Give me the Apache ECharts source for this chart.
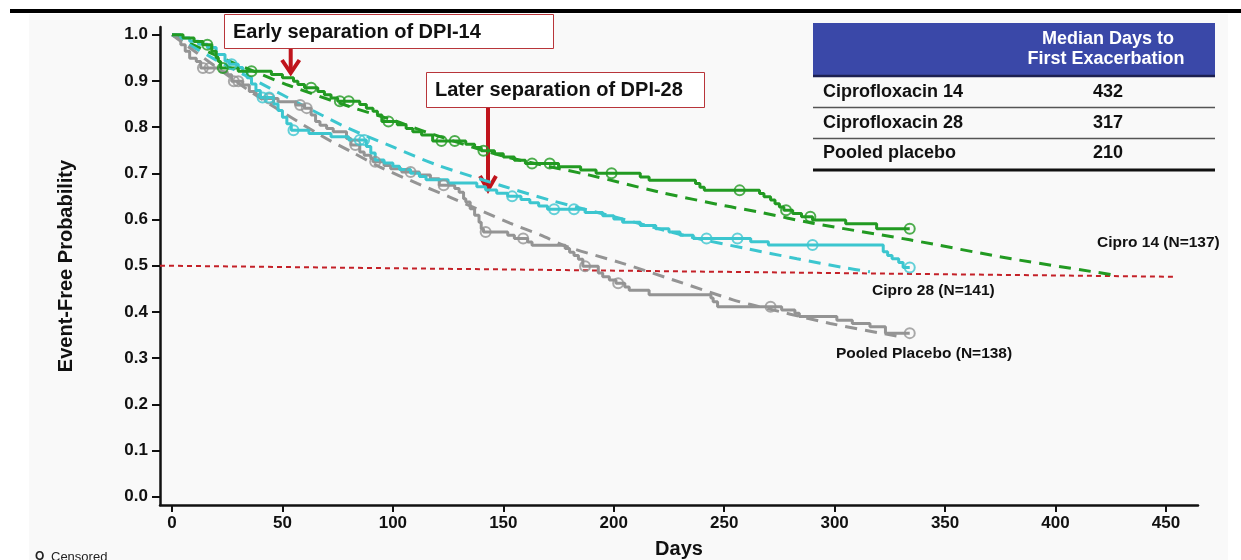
<!DOCTYPE html>
<html>
<head>
<meta charset="utf-8">
<title>Time to First Exacerbation</title>
<script src="https://cdn.jsdelivr.net/npm/echarts@6/dist/echarts.min.js"></script>
<style>
  html, body { margin: 0; padding: 0; background: #ffffff; }
  #panel { position: absolute; left: 29px; top: 14px; width: 1199px; height: 546px; background: #f9f9f9; }
  #chart { position: absolute; left: 0; top: 0; width: 1241px; height: 560px; }
</style>
</head>
<body>
<div id="panel"></div>
<div id="chart"></div>
<script>
// Axis tick values
const dayTicks = [0, 50, 100, 150, 200, 250, 300, 350, 400, 450];
const probTicks = [0, 0.1, 0.2, 0.3, 0.4, 0.5, 0.6, 0.7, 0.8, 0.9, 1.0];

// Kaplan-Meier steps [day, event-free probability]
const cipro14Steps = [
  [0,1.000],[5,0.993],[10,0.985],[14,0.978],[18,0.964],[20,0.950],[21,0.942],[22,0.928],
  [30,0.921],[45,0.914],[50,0.907],[55,0.899],[57,0.892],[60,0.885],[66,0.877],[69,0.870],
  [72,0.863],[75,0.856],[85,0.849],[88,0.841],[91,0.834],[93,0.826],[95,0.812],[102,0.805],
  [106,0.797],[109,0.790],[113,0.783],[118,0.770],[133,0.763],[137,0.756],[140,0.749],
  [146,0.742],[150,0.735],[155,0.728],[160,0.721],[175,0.714],[185,0.707],[192,0.700],
  [212,0.692],[216,0.685],[237,0.678],[239,0.670],[241,0.663],[266,0.656],[268,0.649],
  [271,0.642],[273,0.634],[275,0.627],[277,0.620],[281,0.613],[285,0.606],[290,0.599],
  [305,0.591],[319,0.580],[334,0.580]
];
const cipro28Steps = [
  [0,1.000],[4,0.993],[8,0.986],[12,0.979],[16,0.972],[20,0.957],[24,0.943],[26,0.936],
  [30,0.929],[32,0.921],[34,0.907],[36,0.893],[38,0.879],[40,0.864],[46,0.850],[48,0.836],
  [50,0.821],[52,0.807],[54,0.793],[62,0.786],[72,0.779],[80,0.772],[88,0.758],[90,0.744],
  [92,0.729],[96,0.722],[100,0.715],[103,0.708],[108,0.700],[112,0.693],[115,0.686],
  [125,0.679],[138,0.671],[142,0.664],[147,0.657],[152,0.650],[158,0.643],[162,0.636],
  [166,0.629],[170,0.622],[187,0.615],[195,0.608],[200,0.601],[204,0.594],[212,0.587],
  [219,0.580],[225,0.573],[230,0.566],[236,0.559],[262,0.552],[270,0.545],[322,0.530],
  [324,0.522],[326,0.515],[329,0.507],[331,0.496],[334,0.496]
];
const placeboSteps = [
  [0,1.000],[2,0.993],[4,0.978],[6,0.964],[8,0.949],[11,0.942],[13,0.928],[22,0.920],
  [25,0.913],[27,0.899],[32,0.891],[35,0.877],[38,0.870],[40,0.862],[48,0.855],[56,0.848],
  [60,0.841],[63,0.826],[65,0.812],[67,0.804],[70,0.797],[73,0.790],[79,0.775],[81,0.761],
  [85,0.746],[87,0.739],[90,0.732],[91,0.725],[96,0.717],[99,0.710],[104,0.703],[112,0.696],
  [117,0.688],[121,0.674],[128,0.667],[130,0.659],[132,0.645],[133,0.638],[135,0.623],
  [137,0.609],[139,0.594],[140,0.580],[141,0.573],[152,0.566],[155,0.559],[161,0.551],
  [163,0.544],[178,0.537],[180,0.529],[182,0.522],[184,0.514],[186,0.499],[193,0.484],
  [195,0.476],[198,0.469],[201,0.462],[205,0.454],[207,0.447],[216,0.437],[244,0.430],
  [245,0.422],[247,0.411],[276,0.404],[282,0.397],[284,0.390],[301,0.382],[308,0.375],
  [316,0.368],[323,0.354],[334,0.354]
];

// Censored observations [day, probability]
const cipro14Censored = [
  [16,0.978],[23,0.928],[36,0.921],[63,0.885],[76,0.856],[80,0.856],[98,0.812],[122,0.770],
  [128,0.770],[141,0.749],[163,0.721],[171,0.721],[199,0.700],[257,0.663],[278,0.620],
  [289,0.606],[334,0.580]
];
const cipro28Censored = [
  [27,0.936],[41,0.864],[44,0.864],[55,0.793],[85,0.772],[87,0.772],[154,0.650],[173,0.622],
  [182,0.622],[242,0.559],[256,0.559],[290,0.545],[334,0.496]
];
const placeboCensored = [
  [14,0.928],[17,0.928],[28,0.899],[30,0.899],[44,0.862],[58,0.848],[61,0.841],[83,0.761],
  [92,0.725],[108,0.703],[123,0.674],[142,0.573],[159,0.559],[187,0.499],[202,0.462],
  [271,0.411],[334,0.354]
];

// Fitted (modelled) curves
const cipro14Fit = [
  [0,1.0],[20,0.955],[40,0.915],[53,0.890],[80,0.845],[100,0.815],[117,0.786],[150,0.737],
  [189,0.696],[220,0.660],[251,0.629],[267,0.615],[290,0.592],[334,0.556],[380,0.515],[425,0.481]
];
const cipro28Fit = [
  [0,1.0],[20,0.945],[40,0.895],[60,0.845],[80,0.797],[100,0.757],[120,0.718],[150,0.672],
  [171,0.642],[200,0.606],[234,0.563],[260,0.537],[283,0.515],[304,0.496],[316,0.487]
];
const placeboFit = [
  [0,1.0],[20,0.930],[37,0.872],[67,0.783],[81,0.747],[94,0.714],[111,0.678],[126,0.648],
  [153,0.592],[167,0.566],[179,0.541],[204,0.505],[227,0.469],[254,0.426],[262,0.416],
  [298,0.375],[330,0.346]
];

// Median reference line
const medianLine = [[-5.43,0.500],[454,0.476]];

// Median table
const tableGroups = ['Ciprofloxacin 14', 'Ciprofloxacin 28', 'Pooled placebo'];
const tableMedians = ['432', '317', '210'];

const GREEN = '#229a22', CYAN = '#3cc6cf', GRAY = '#949494', RED = '#c0141c';
const FONT = "'Liberation Sans', Arial, Helvetica, sans-serif";

function stepSeries(name, data, color) {
  return { name, type: 'line', step: 'end', data, symbol: 'none', z: 4,
    lineStyle: { color, width: 3 }, silent: true };
}
function fitSeries(name, data, color) {
  return { name, type: 'line', data, symbol: 'none', smooth: 0.3, z: 3,
    lineStyle: { color, width: 3, type: [12, 8] }, silent: true };
}
function censorSeries(name, data, color) {
  return { name, type: 'scatter', data, symbol: 'circle', symbolSize: 10, z: 5,
    itemStyle: { color: 'rgba(0,0,0,0)', borderColor: color, borderWidth: 2 }, silent: true };
}

const chart = echarts.init(document.getElementById('chart'), null, { renderer: 'canvas' });

const txt = (x, y, text, size, opts) => ({
  type: 'text', x, y,
  style: Object.assign({ text, font: 'bold ' + size + 'px ' + FONT, fill: '#111',
    verticalAlign: 'middle', align: 'left' }, opts || {})
});

const graphics = [
  // top rule
  { type: 'rect', shape: { x: 10, y: 9, width: 1231, height: 4 }, style: { fill: '#000' } },
  // annotation: early separation
  { type: 'rect', shape: { x: 224.5, y: 14.5, width: 329, height: 34 },
    style: { fill: '#ffffff', stroke: '#b8353a', lineWidth: 1 } },
  txt(233, 32, 'Early separation of DPI-14', 20),
  { type: 'line', shape: { x1: 290.7, y1: 49, x2: 290.7, y2: 72 }, style: { stroke: RED, lineWidth: 4 } },
  { type: 'polyline', shape: { points: [[282, 60], [290.7, 73], [299.4, 60]] },
    style: { stroke: RED, lineWidth: 4, fill: null } },
  // annotation: later separation
  { type: 'rect', shape: { x: 426.5, y: 72.5, width: 278, height: 35 },
    style: { fill: '#ffffff', stroke: '#b8353a', lineWidth: 1 } },
  txt(435, 90, 'Later separation of DPI-28', 20),
  { type: 'line', shape: { x1: 488, y1: 108, x2: 488, y2: 189 }, style: { stroke: RED, lineWidth: 4 } },
  { type: 'polyline', shape: { points: [[480, 176], [488, 190], [496, 176]] },
    style: { stroke: RED, lineWidth: 4, fill: null } },
  // median table
  { type: 'rect', shape: { x: 813, y: 23, width: 402, height: 53 }, style: { fill: '#3a48a8' } },
  { type: 'line', shape: { x1: 813, y1: 76, x2: 1215, y2: 76 }, style: { stroke: '#1c2050', lineWidth: 2.5 } },
  txt(1108, 39.5, 'Median Days to', 18, { fill: '#ffffff', align: 'center' }),
  txt(1106, 59.5, 'First Exacerbation', 18, { fill: '#ffffff', align: 'center' }),
  { type: 'line', shape: { x1: 813, y1: 107.5, x2: 1215, y2: 107.5 }, style: { stroke: '#555', lineWidth: 1.5 } },
  { type: 'line', shape: { x1: 813, y1: 138.5, x2: 1215, y2: 138.5 }, style: { stroke: '#555', lineWidth: 1.5 } },
  { type: 'line', shape: { x1: 813, y1: 170, x2: 1215, y2: 170 }, style: { stroke: '#111', lineWidth: 3 } },
  // curve labels
  txt(1097, 243, 'Cipro 14 (N=137)', 15.5),
  txt(872, 291, 'Cipro 28 (N=141)', 15.5),
  txt(836, 354, 'Pooled Placebo (N=138)', 15.5),
  // censor key
  txt(35, 557, 'O', 12, { fill: '#222' }),
  { type: 'text', x: 51, y: 557, style: { text: 'Censored', font: '13px ' + FONT, fill: '#222', verticalAlign: 'middle' } }
];
const rowY = [92, 123, 153];
tableGroups.forEach((g, i) => {
  graphics.push(txt(823, rowY[i], g, 18));
  graphics.push(txt(1108, rowY[i], tableMedians[i], 18, { align: 'center' }));
});

chart.setOption({
  animation: false,
  backgroundColor: 'transparent',
  textStyle: { fontFamily: FONT },
  grid: { left: 160, right: 43, top: 27, bottom: 55, outerBoundsMode: 'none', containLabel: false },
  xAxis: {
    type: 'value', min: -5.43, max: 464.5,
    name: 'Days', nameLocation: 'middle', nameGap: 34,
    nameTextStyle: { fontSize: 20, fontWeight: 'bold', color: '#111', fontFamily: FONT },
    axisLine: { show: true, onZero: false, lineStyle: { color: '#111', width: 2.5 } },
    axisTick: { show: true, length: 7, lineStyle: { color: '#111', width: 2 }, customValues: dayTicks },
    axisLabel: { fontSize: 17, fontWeight: 'bold', color: '#111', margin: 10, customValues: dayTicks,
      formatter: v => String(v) },
    splitLine: { show: false }
  },
  yAxis: {
    type: 'value', min: -0.018, max: 1.0166,
    name: 'Event-Free Probability', nameLocation: 'middle', nameGap: 84, nameRotate: 90,
    nameTextStyle: { fontSize: 20, fontWeight: 'bold', color: '#111', fontFamily: FONT },
    axisLine: { show: true, onZero: false, lineStyle: { color: '#111', width: 2.5 } },
    axisTick: { show: true, length: 8, lineStyle: { color: '#111', width: 2 }, customValues: probTicks },
    axisLabel: { fontSize: 17, fontWeight: 'bold', color: '#111', margin: 12, customValues: probTicks,
      formatter: v => v.toFixed(1) },
    splitLine: { show: false }
  },
  graphic: graphics,
  series: [
    { name: 'Median', type: 'line', data: medianLine, symbol: 'none', z: 2, silent: true,
      lineStyle: { color: '#c42128', width: 2, type: [5, 4] } },
    fitSeries('Cipro 14 fit', cipro14Fit, GREEN),
    fitSeries('Cipro 28 fit', cipro28Fit, CYAN),
    fitSeries('Placebo fit', placeboFit, GRAY),
    stepSeries('Placebo', placeboSteps, GRAY),
    stepSeries('Cipro 28', cipro28Steps, CYAN),
    stepSeries('Cipro 14', cipro14Steps, GREEN),
    censorSeries('Placebo censored', placeboCensored, GRAY),
    censorSeries('Cipro 28 censored', cipro28Censored, CYAN),
    censorSeries('Cipro 14 censored', cipro14Censored, GREEN)
  ]
});
</script>
</body>
</html>
